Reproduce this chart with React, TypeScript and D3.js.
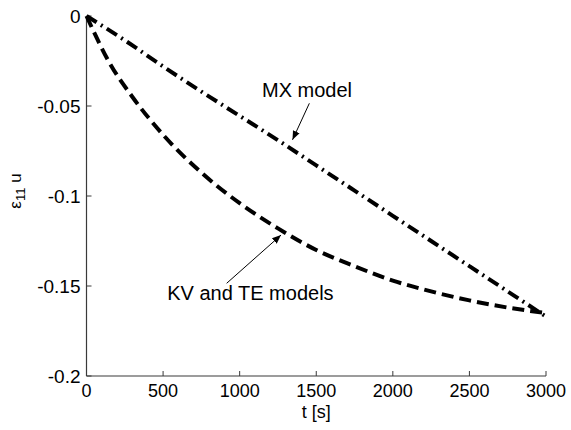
import React, { useRef, useEffect } from 'react';
import * as d3 from 'd3';

// time samples [s] and strain values
const kvTime = [0, 150, 300, 500, 750, 1000, 1250, 1500, 1750, 2000, 2250, 2500, 2750, 3000];
const kvStrain = [0, -0.026, -0.045, -0.066, -0.087, -0.104, -0.118, -0.13, -0.139, -0.147, -0.153, -0.158, -0.162, -0.165];

const mxTime = [0, 250, 500, 750, 1000, 1250, 1500, 1750, 2000, 2250, 2500, 2750, 3000];
const mxStrain = [0, -0.0135, -0.028, -0.042, -0.0555, -0.069, -0.083, -0.097, -0.111, -0.125, -0.139, -0.153, -0.167];

const xTicks = [0, 500, 1000, 1500, 2000, 2500, 3000];
const yTicks = [0, -0.05, -0.1, -0.15, -0.2];
const yTickLabels = ['0', '-0.05', '-0.1', '-0.15', '-0.2'];

const annotations = [
  { label: 'MX model', textT: 1440, textE: -0.045, tipT: 1345, tipE: -0.0688, fromT: 1455, fromE: -0.0485 },
  { label: 'KV and TE models', textT: 1070, textE: -0.158, tipT: 1270, tipE: -0.1217, fromT: 915, fromE: -0.1485 },
];

const App = () => {
  const ref = useRef<SVGSVGElement>(null);

  useEffect(() => {
    const svg = d3.select(ref.current);
    svg.selectAll('*').remove();

    const width = 571;
    const height = 430;
    const margin = { top: 16, right: 25, bottom: 54, left: 86.5 };
    const font = 'Arial, "Liberation Sans", Helvetica, sans-serif';

    const x = d3.scaleLinear().domain([0, 3000]).range([margin.left, width - margin.right]);
    const y = d3.scaleLinear().domain([-0.2, 0]).range([height - margin.bottom, margin.top]);

    svg.attr('width', width).attr('height', height);
    svg.append('rect').attr('width', width).attr('height', height).attr('fill', '#fff');

    const axisColor = '#3a3a3a';

    // x axis
    const gx = svg.append('g').attr('transform', `translate(0,${y(-0.2)})`);
    gx.append('line')
      .attr('x1', x(0)).attr('x2', x(3000))
      .attr('stroke', axisColor).attr('stroke-width', 1.2);
    xTicks.forEach(t => {
      gx.append('line')
        .attr('x1', x(t)).attr('x2', x(t)).attr('y1', 0).attr('y2', -5)
        .attr('stroke', axisColor).attr('stroke-width', 1);
      gx.append('text')
        .attr('x', x(t)).attr('y', 21)
        .attr('text-anchor', 'middle')
        .attr('font-family', font).attr('font-size', 18)
        .attr('fill', '#000')
        .text(String(t));
    });

    // y axis
    const gy = svg.append('g').attr('transform', `translate(${x(0)},0)`);
    gy.append('line')
      .attr('y1', y(0)).attr('y2', y(-0.2))
      .attr('stroke', axisColor).attr('stroke-width', 1.2);
    yTicks.forEach((v, i) => {
      gy.append('line')
        .attr('y1', y(v)).attr('y2', y(v)).attr('x1', 0).attr('x2', 5)
        .attr('stroke', axisColor).attr('stroke-width', 1);
      gy.append('text')
        .attr('x', -6).attr('y', y(v))
        .attr('dy', '0.36em')
        .attr('text-anchor', 'end')
        .attr('font-family', font).attr('font-size', 19)
        .attr('fill', '#000')
        .text(yTickLabels[i]);
    });

    // axis titles
    svg.append('text')
      .attr('x', (x(0) + x(3000)) / 2).attr('y', 418)
      .attr('text-anchor', 'middle')
      .attr('font-family', font).attr('font-size', 18)
      .text('t [s]');

    const yl = svg.append('text')
      .attr('transform', 'translate(21,191) rotate(-90)')
      .attr('text-anchor', 'middle')
      .attr('font-family', font).attr('font-size', 17);
    yl.append('tspan').text('ε');
    yl.append('tspan').attr('font-size', 13).attr('dy', 4).text('11');
    yl.append('tspan').attr('dy', -4).text(' u');

    // curves
    const line = d3.line<[number, number]>()
      .x(d => x(d[0]))
      .y(d => y(d[1]))
      .curve(d3.curveMonotoneX);

    const kv = kvTime.map((t, i) => [t, kvStrain[i]] as [number, number]);
    const mx = mxTime.map((t, i) => [t, mxStrain[i]] as [number, number]);

    svg.append('path')
      .attr('d', line(mx))
      .attr('fill', 'none')
      .attr('stroke', '#000')
      .attr('stroke-width', 4)
      .attr('stroke-dasharray', '12,5,2,5');

    svg.append('path')
      .attr('d', line(kv))
      .attr('fill', 'none')
      .attr('stroke', '#000')
      .attr('stroke-width', 4)
      .attr('stroke-dasharray', '12,6');

    // annotations
    svg.append('defs').append('marker')
      .attr('id', 'arrowhead')
      .attr('viewBox', '0 0 10 10')
      .attr('refX', 10).attr('refY', 5)
      .attr('markerWidth', 9).attr('markerHeight', 9)
      .attr('markerUnits', 'userSpaceOnUse')
      .attr('orient', 'auto')
      .append('path')
      .attr('d', 'M0,1 L10,5 L0,9 Z')
      .attr('fill', '#000');

    annotations.forEach(a => {
      svg.append('line')
        .attr('x1', x(a.fromT)).attr('y1', y(a.fromE))
        .attr('x2', x(a.tipT)).attr('y2', y(a.tipE))
        .attr('stroke', '#000').attr('stroke-width', 1)
        .attr('marker-end', 'url(#arrowhead)');
      svg.append('text')
        .attr('x', x(a.textT)).attr('y', y(a.textE))
        .attr('text-anchor', 'middle')
        .attr('font-family', font).attr('font-size', 20)
        .attr('fill', '#000')
        .text(a.label);
    });
  }, []);

  return <svg ref={ref} style={{ position: 'absolute', left: 0, top: 0 }} />;
};

export default App;
